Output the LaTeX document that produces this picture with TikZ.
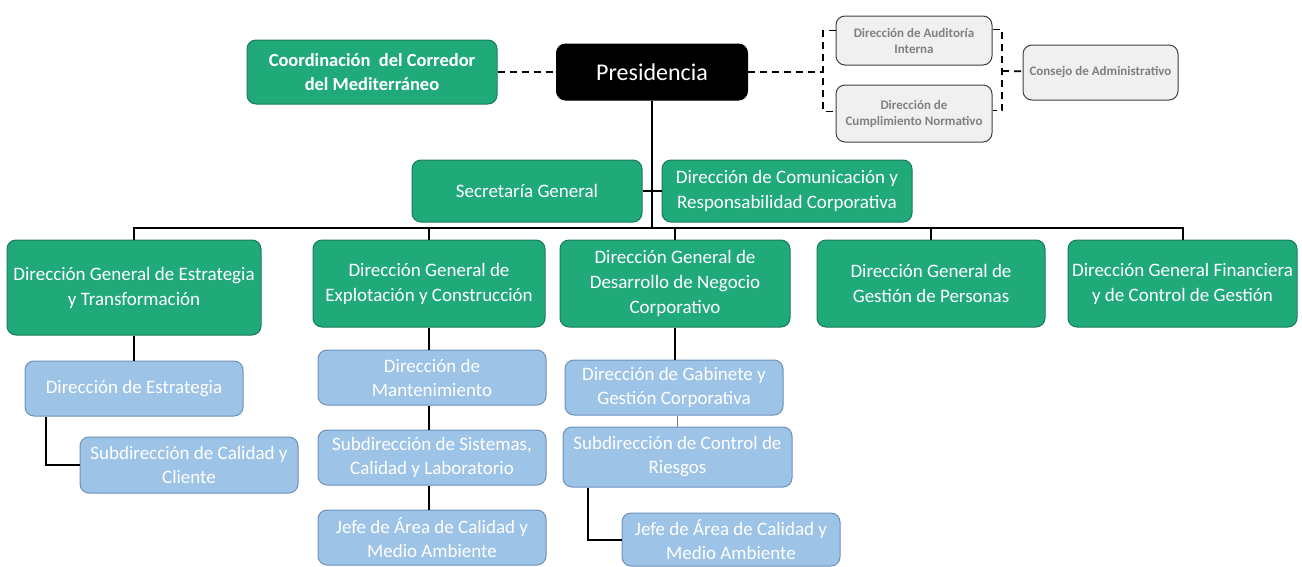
\documentclass[tikz,border=0pt]{standalone}
\usepackage{fontspec}
\setmainfont{Carlito}
\usetikzlibrary{positioning}
\definecolor{grn}{RGB}{33,170,121}
\definecolor{grnline}{RGB}{26,122,88}
\definecolor{blu}{RGB}{157,195,230}
\definecolor{bluline}{RGB}{108,146,186}
\definecolor{gry}{RGB}{240,240,240}
\definecolor{grytext}{RGB}{128,128,128}

\begin{document}
\begin{tikzpicture}[x=1pt,y=-1pt,
    box/.style={rounded corners=9pt,inner sep=0pt,align=center,line width=1pt},
    wh/.style 2 args={minimum width=#1pt,minimum height=#2pt},
    gbox/.style={box,fill=grn,draw=grnline,text=white,font=\fontsize{19}{25}\selectfont},
    bbox/.style={box,fill=blu,draw=bluline,text=white,font=\fontsize{19}{24}\selectfont},
    kbox/.style={box,fill=gry,draw=black!75,text=grytext,font=\bfseries\fontsize{13}{16}\selectfont},
    line/.style={line width=2pt},
    dline/.style={line width=1.8pt,dash pattern=on 7pt off 5pt}]
    \useasboundingbox (0,0) rectangle (1302,566);
    % top
    \node[box,fill=black,draw=black,text=white,wh={191}{56},font=\fontsize{24}{28}\selectfont] (pres) at (652,72) {Presidencia};
    \node[gbox,wh={250}{64},font=\bfseries\fontsize{18.5}{24}\selectfont] (coord) at (372,72) {Coordinación~ del Corredor\\del Mediterráneo};
    \node[kbox,wh={156}{49}] (audit) at (914,40.5) {Dirección de Auditoría\\Interna};
    \node[kbox,wh={156}{57}] (cumpl) at (914,113.5) {Dirección de\\Cumplimiento Normativo};
    \node[kbox,wh={155}{55}] (consejo) at (1100.5,72.5) {Consejo de Administrativo};
    \node[gbox,wh={230}{62}] (secre) at (527,191) {Secretaría General};
    \node[gbox,wh={250}{62}] (comun) at (787,191) {Dirección de Comunicación y\\Responsabilidad Corporativa};
    % direcciones generales
    \node[gbox,wh={254}{95}] (dgest) at (134,287.5) {Dirección General de Estrategia\\y Transformación};
    \node[gbox,wh={232}{87}] (dgexp) at (429,283.5) {Dirección General de\\Explotación y Construcción};
    \node[gbox,wh={230}{87}] (dgdes) at (675,283.5) {Dirección General de\\Desarrollo de Negocio\\Corporativo};
    \node[gbox,wh={228}{87}] (dgper) at (931,283.5) {Dirección General de\\Gestión de Personas};
    \node[gbox,wh={229}{87}] (dgfin) at (1182.5,283.5) {Dirección General Financiera\\y de Control de Gestión};
    % areas
    \node[bbox,wh={218}{55}] (dest) at (134,388.5) {Dirección de Estrategia};
    \node[bbox,wh={218}{56}] (subcal) at (189,465) {Subdirección de Calidad y\\Cliente};
    \node[bbox,wh={228}{55}] (dman) at (432,377.5) {Dirección de\\Mantenimiento};
    \node[bbox,wh={228}{55}] (subsis) at (432,457.5) {Subdirección de Sistemas,\\Calidad y Laboratorio};
    \node[bbox,wh={228}{55}] (jefe1) at (432,537.5) {Jefe de Área de Calidad y\\Medio Ambiente};
    \node[bbox,wh={218}{55}] (gab) at (674,387.5) {Dirección de Gabinete y\\Gestión Corporativa};
    \node[bbox,wh={229}{60}] (riesg) at (677.5,457) {Subdirección de Control de\\Riesgos};
    \node[bbox,wh={218}{53}] (jefe2) at (731,539.5) {Jefe de Área de Calidad y\\Medio Ambiente};
    % dashed links
    \coordinate (brL) at (823,72);
    \coordinate (brR) at (1002,71);
    \draw[dline] (coord) -- (pres);
    \draw[dline] (pres) -- (brL);
    \draw[dline] ([yshift=10pt]audit.west) -| (brL) |- ([yshift=2pt]cumpl.west);
    \draw[dline] ([yshift=11pt]audit.east) -| (brR) |- ([yshift=3pt]cumpl.east);
    \draw[dline] (brR) -- (consejo);
    % tree
    \coordinate (bus) at (652,228);
    \draw[line] (pres) -- (bus);
    \draw[line] (secre) -- (comun);
    \draw[line] (dgest.north) -- ++(0,-12) -| (dgfin.north);
    \foreach \n in {dgexp,dgdes,dgper}
        \draw[line] (\n.north) -- ++(0,-12);
    \draw[line] (dgest) -- (dest);
    \draw[line] ([xshift=-88pt]dest.south) |- (subcal);
    \draw[line] (dgexp.south) -- (dgexp.south |- dman.north);
    \draw[line] (dman.south -| dgexp.south) -- (subsis.north -| dgexp.south);
    \draw[line] (subsis.south -| dgexp.south) -- (jefe1.north -| dgexp.south);
    \draw[line] (dgdes.south) -- (dgdes.south |- gab.north);
    \draw[gray,line width=1pt] (riesg.north) -- (riesg.north |- gab.south);
    \draw[line] ([xshift=-90pt]riesg.south) |- (jefe2);
\end{tikzpicture}
\end{document}
